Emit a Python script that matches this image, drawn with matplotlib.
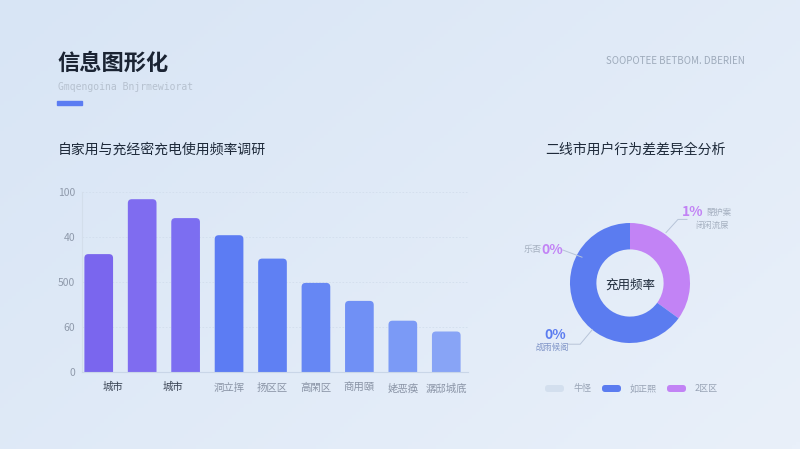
import numpy as np
import matplotlib
matplotlib.use("Agg")
from matplotlib import pyplot as plt
from matplotlib.patches import FancyBboxPatch
from matplotlib.colors import LinearSegmentedColormap

plt.rcParams['font.family'] = ['Noto Sans CJK SC', 'DejaVu Sans']

# bar chart data
bar_labels = ['城市', '', '城市', '洞立挥', '扬区区', '高閑区', '商用頤', '姥恶痪', '潺邸城底']
bar_values = [65.5, 96, 85.5, 76, 63, 49.5, 39.5, 28.5, 22.5]
bar_colors = ['#7a66ee', '#7f6cf0', '#7c6ef1', '#5c7cf3', '#5f80f3', '#6687f4', '#7090f5', '#7b9af6', '#88a4f6']
y_ticks = [0, 25, 50, 75, 100]
y_tick_labels = ['0', '60', '500', '40', '100']

# donut data (legend order)
donut_labels = ['牛怪', '如正熙', '2区区']
donut_values = [0, 65, 35]
donut_colors = ['#d3dfee', '#5b7cf0', '#c283f5']

fig = plt.figure(figsize=(8, 4.49), dpi=100)

# soft background gradient
bg = fig.add_axes([0, 0, 1, 1], zorder=-10)
gx = np.linspace(0, 1, 200)
gy = np.linspace(0, 1, 120)
G = 0.6 * gx[None, :] + 0.4 * gy[:, None]
cmap = LinearSegmentedColormap.from_list('bg', ['#d8e5f5', '#e9f0fa'])
bg.imshow(G, cmap=cmap, aspect='auto', extent=[0, 1, 0, 1], origin='upper')
bg.set_axis_off()

W, H = 800, 449


def fx(px):
    return px / W


def fy(py):
    return 1 - py / H


# header
fig.text(fx(57), fy(63), '信息图形化', fontsize=16, fontweight='bold', color='#1b2433', va='center')
fig.text(fx(58), fy(87), 'Gmqengoina Bnjrmewiorat', fontsize=7, family='DejaVu Sans Mono',
         color='#b6c1cf', va='center')
fig.patches.append(plt.Rectangle((fx(57), fy(105)), fx(25), 4 / H, color='#5b7cf2',
                                 transform=fig.transFigure, figure=fig))
fig.text(fx(606), fy(61), 'SOOPOTEE BETBOM. DBERIEN', fontsize=7, color='#9eabbb', va='center')

fig.text(fx(58), fy(150), '自家用与充经密充电使用频率调研', fontsize=10, color='#1e2a3a', va='center')
fig.text(fx(635), fy(150), '二线市用户行为差差异全分析', fontsize=10, color='#1e2a3a', va='center', ha='center')

# bar chart
ax = fig.add_axes([fx(82), fy(372), fx(468) - fx(82), fy(192) - fy(372)])
ax.set_facecolor('none')
x = np.arange(len(bar_values))
bars = ax.bar(x, bar_values, width=0.66, color=bar_colors)
ax.set_xlim(-0.385, 8.5)
ax.set_ylim(0, 100)
px_x = (468 - 82) / 8.885
px_y = 180 / 100
for b in bars:
    b.set_visible(False)
    r = 4 / px_x
    p = FancyBboxPatch((b.get_x(), -5), b.get_width(), b.get_height() + 5,
                       boxstyle='round,pad=0,rounding_size=%f' % r,
                       mutation_aspect=(4 / px_y) / r,
                       facecolor=b.get_facecolor(), edgecolor='none')
    ax.add_patch(p)

ax.set_yticks(y_ticks)
ax.set_yticklabels(y_tick_labels)
ax.set_xticks(x)
# the first two labels sit between bars in the reference, so draw them by hand
ax.set_xticklabels(['' if i < 3 else l for i, l in enumerate(bar_labels)])
shifts = {0: 14, 2: -13}
for i, dxp in shifts.items():
    ax.annotate(bar_labels[i], (x[i], 0), xytext=(dxp, -15), textcoords='offset pixels',
                ha='center', va='center', fontsize=7.5, color='#3a4454',
                xycoords=('data', 'axes fraction'), annotation_clip=False)
for t in ax.get_xticklabels():
    t.set_color('#8a94a6')
ax.tick_params(axis='y', length=0, labelsize=7.5, colors='#8f9aab', pad=5)
ax.tick_params(axis='x', length=0, labelsize=7.5, pad=8)
ax.grid(axis='y', color='#d2deed', lw=0.6, ls=(0, (2, 2)))
ax.set_axisbelow(True)
for s in ['top', 'right']:
    ax.spines[s].set_visible(False)
ax.spines['left'].set_color('#d3deeb')
ax.spines['bottom'].set_color('#c9d6e8')

# donut: purple runs clockwise from the top, then blue
dx = fig.add_axes([fx(500), fy(380), fx(760) - fx(500), fy(180) - fy(380)])
dx.set_facecolor('none')
dx.pie([donut_values[2], donut_values[1]], colors=[donut_colors[2], donut_colors[1]],
       startangle=90, counterclock=False,
       radius=1, wedgeprops=dict(width=0.44, edgecolor='none'))
dx.set_aspect('auto')
dx.set_xlim(-130 / 60, 130 / 60)
dx.set_ylim(-97 / 60, 103 / 60)
dx.set_axis_off()
dx.text(0, -0.03, '充用频率', ha='center', va='center', fontsize=9, color='#1e2a3a')

# annotations
dx.text(1.05, 1.18, '1%', fontsize=10, fontweight='bold', color='#c283f5', ha='center', va='center')
dx.text(1.27, 1.18, '閉护案', fontsize=6, color='#a5b0c0', ha='left', va='center')
dx.text(1.37, 0.96, '闭闲流屎', fontsize=6, color='#a5b0c0', ha='center', va='center')
dx.plot([0.6, 0.8, 0.95], [0.84, 1.06, 1.06], color='#b7c4d8', lw=0.7)

dx.text(-1.47, 0.55, '乐否', fontsize=6.5, color='#a5b0c0', ha='right', va='center')
dx.text(-1.3, 0.55, '0%', fontsize=10, fontweight='bold', color='#c283f5', ha='center', va='center')
dx.plot([-1.12, -0.8], [0.55, 0.43], color='#b7c4d8', lw=0.7)

dx.text(-1.25, -0.86, '0%', fontsize=10, fontweight='bold', color='#5b7cf0', ha='center', va='center')
dx.text(-1.3, -1.07, '觇雨候阁', fontsize=6, color='#8095c8', ha='center', va='center')
dx.plot([-0.63, -0.83, -1.03], [-0.78, -1.02, -1.02], color='#b7c4d8', lw=0.7)

# legend
leg_x = [545, 602, 667]
for i, lab in enumerate(donut_labels):
    fig.patches.append(FancyBboxPatch((fx(leg_x[i]), fy(392)), fx(19), 7 / H,
                                      boxstyle='round,pad=0,rounding_size=0.004',
                                      mutation_aspect=W / H,
                                      facecolor=donut_colors[i], edgecolor='none',
                                      transform=fig.transFigure, figure=fig))
    fig.text(fx(leg_x[i] + 28), fy(389), lab, fontsize=6.5, color='#98a3b5', va='center')

fig.savefig('out.png', dpi=100)
